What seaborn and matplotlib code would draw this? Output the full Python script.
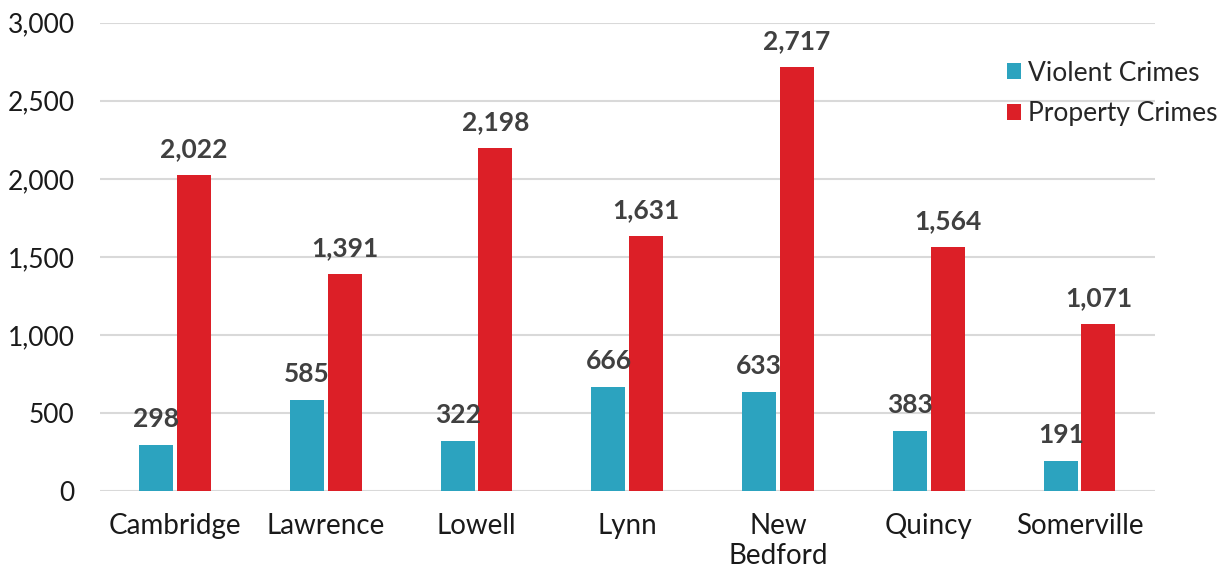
import matplotlib
matplotlib.use("Agg")
import matplotlib.pyplot as plt
import seaborn as sns
import pandas as pd

# Data
cities = ["Cambridge", "Lawrence", "Lowell", "Lynn", "New\nBedford", "Quincy", "Somerville"]
violent = [298, 585, 322, 666, 633, 383, 191]
property_ = [2022, 1391, 2198, 1631, 2717, 1564, 1071]
series = ["Violent Crimes", "Property Crimes"]
colors = ["#2CA3BF", "#DC1F27"]

df = pd.DataFrame({
    "city": cities * 2,
    "crimes": violent + property_,
    "type": [series[0]] * len(cities) + [series[1]] * len(cities),
})

sns.set_style("white")
plt.rcParams["font.family"] = ["Lato", "DejaVu Sans"]

fig = plt.figure(figsize=(12.3, 5.69), dpi=100)
ax = fig.add_axes([0.081, 0.137, 0.858, 0.823])

sns.barplot(data=df, x="city", y="crimes", hue="type", palette=colors,
            width=0.5, gap=0.1, ax=ax, saturation=1, edgecolor="none")

for cont in ax.containers:
    ax.bar_label(cont, labels=[f"{int(v):,}" for v in cont.datavalues],
                 padding=10, fontsize=19, fontweight="bold", color="#404040")

ax.set_ylim(0, 3000)
ax.set_xlim(-0.5, 6.5)
ax.set_yticks(range(0, 3001, 500))
ax.set_yticklabels([f"{v:,}" for v in range(0, 3001, 500)])
ax.yaxis.grid(True, color="#D9D9D9", linewidth=1.5)
ax.set_axisbelow(True)
for s in ax.spines.values():
    s.set_visible(False)
ax.tick_params(axis="both", length=0, colors="#1a1a1a")
ax.tick_params(axis="y", pad=18, labelsize=19)
ax.tick_params(axis="x", pad=16, labelsize=20)
ax.set_xlabel("")
ax.set_ylabel("")

leg = ax.legend(loc="upper left", bbox_to_anchor=(0.81, 0.912), bbox_transform=fig.transFigure,
                frameon=False, fontsize=19, handlelength=0.55, handleheight=0.55,
                handletextpad=0.25, labelspacing=0.6, borderaxespad=0)

fig.savefig("out.png", dpi=100)
